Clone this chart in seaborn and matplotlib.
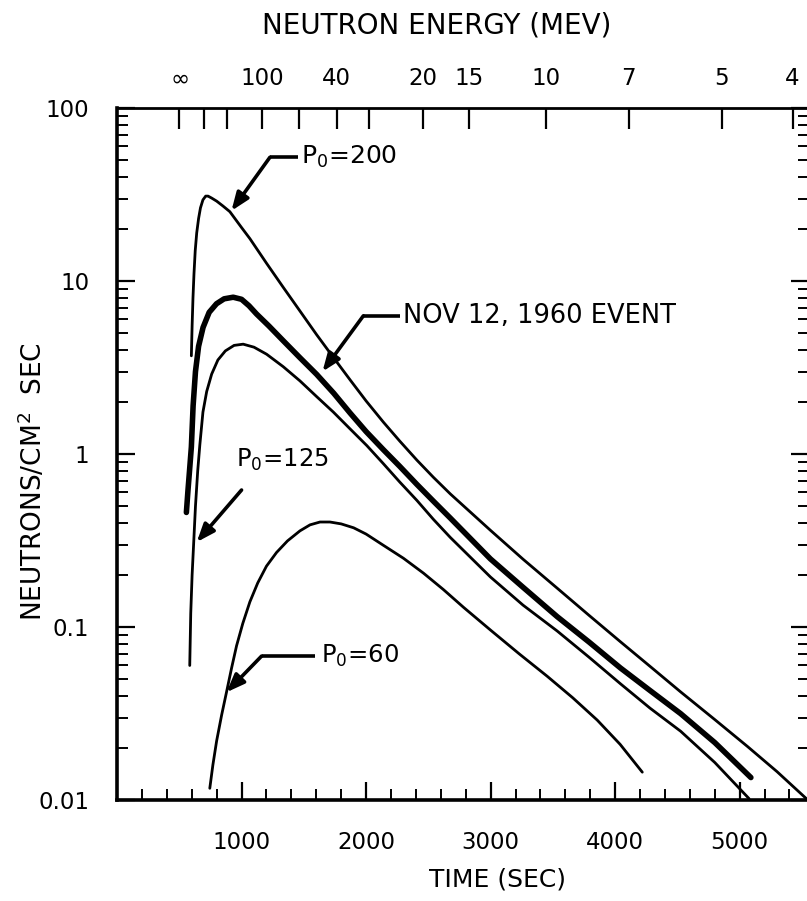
import numpy as np
import pandas as pd
import matplotlib
matplotlib.use('Agg')
import matplotlib.pyplot as plt
import seaborn as sns
from matplotlib.ticker import FixedLocator, FixedFormatter, LogLocator, NullFormatter

# ---------------- data ----------------
time_p200 = [597, 603, 610, 618, 628, 640, 655, 670, 690, 712, 731, 760, 800, 850, 906, 1000,
             1067, 1200, 1335, 1470, 1603, 1740, 1871, 2000, 2139, 2270, 2408, 2540, 2676, 2998,
             3260, 3534, 3790, 4043, 4290, 4526, 4800, 5063, 5300, 5548]
flux_p200 = [3.7, 5.5, 8.0, 11.0, 15.0, 19.0, 23.0, 26.5, 29.5, 31.0, 31.0, 30.2, 29.0, 27.2, 25.2,
             20.4, 17.6, 12.7, 9.2, 6.7, 4.9, 3.6, 2.69, 2.03, 1.53, 1.19, 0.923, 0.735, 0.589,
             0.363, 0.247, 0.168, 0.117, 0.0822, 0.0585, 0.0422, 0.0292, 0.0204, 0.0146, 0.01]

time_nov = [557, 570, 585, 597, 611, 630, 655, 691, 740, 799, 860, 933, 1000, 1060, 1120, 1220,
            1335, 1470, 1603, 1740, 1871, 2000, 2139, 2270, 2408, 2540, 2676, 2998, 3260, 3534,
            3790, 4043, 4280, 4526, 4800, 5090]
flux_nov = [0.46, 0.62, 0.85, 1.1, 1.9, 3.0, 4.2, 5.4, 6.6, 7.4, 7.9, 8.07, 7.85, 7.2, 6.46, 5.5,
            4.52, 3.6, 2.89, 2.25, 1.73, 1.35, 1.06, 0.85, 0.668, 0.535, 0.427, 0.248, 0.17, 0.115,
            0.082, 0.058, 0.043, 0.0316, 0.0215, 0.0135]

time_p125 = [584, 592, 603, 615, 630, 648, 665, 690, 720, 760, 810, 870, 940, 1013, 1100, 1201,
             1335, 1469, 1603, 1737, 1871, 2006, 2139, 2270, 2408, 2540, 2676, 2998, 3260, 3534,
             3790, 4043, 4280, 4526, 4800, 5075]
flux_p125 = [0.06, 0.12, 0.2, 0.3, 0.5, 0.8, 1.13, 1.75, 2.3, 2.9, 3.5, 3.95, 4.25, 4.32, 4.15, 3.78,
             3.2, 2.65, 2.15, 1.75, 1.4, 1.12, 0.88, 0.69, 0.54, 0.42, 0.33, 0.195, 0.134, 0.095,
             0.067, 0.047, 0.034, 0.025, 0.0165, 0.0102]

time_p60 = [745, 770, 800, 840, 879, 920, 960, 1010, 1067, 1130, 1200, 1281, 1369, 1469, 1550,
            1630, 1710, 1800, 1900, 2000, 2139, 2300, 2461, 2620, 2783, 3000, 3230, 3454, 3660,
            3856, 4040, 4218]
flux_p60 = [0.0117, 0.016, 0.022, 0.031, 0.042, 0.058, 0.078, 0.105, 0.14, 0.18, 0.225, 0.27, 0.315,
            0.36, 0.39, 0.405, 0.405, 0.395, 0.375, 0.345, 0.297, 0.25, 0.205, 0.165, 0.13, 0.096,
            0.07, 0.052, 0.039, 0.029, 0.021, 0.0145]

curve_names = ['P0=200', 'NOV 12, 1960 EVENT', 'P0=125', 'P0=60']
curve_widths = [2.0, 4.0, 2.0, 2.0]

x_major = [1000, 2000, 3000, 4000, 5000]
x_major_labels = ['1000', '2000', '3000', '4000', '5000']
y_major = [0.01, 0.1, 1, 10, 100]
y_major_labels = ['0.01', '0.1', '1', '10', '100']

energy_ticks = [np.inf, 400, 200, 100, 60, 40, 30, 20, 15, 10, 7, 5, 4]   # MeV
energy_labels = ['$\\infty$', '', '', '100', '', '40', '', '20', '15', '10', '7', '5', '4']

# annotations: text position, arrow path (time, flux)
ann_texts = ['P$_0$=200', 'NOV 12, 1960 EVENT', 'P$_0$=125', 'P$_0$=60']
ann_sizes = [18, 18.5, 17.5, 17.5]
ann_text_pos = [(1480, 52), (2300, 6.3), (955, 0.92), (1640, 0.068)]
ann_paths = [
    [(1450, 52), (1228, 52), (919, 25.5)],
    [(2270, 6.3), (1978, 6.3), (1650, 3.0)],
    [(1000, 0.62), (640, 0.31)],
    [(1590, 0.068), (1161, 0.068), (879, 0.042)],
]

# ---------------- figure ----------------
sns.set_theme(style='white')
plt.rcParams['font.family'] = ['DejaVu Sans']
plt.rcParams['mathtext.default'] = 'regular'
for key in ['text.color', 'axes.labelcolor', 'xtick.color', 'ytick.color', 'axes.edgecolor']:
    plt.rcParams[key] = 'black'

fig = plt.figure(figsize=(8.07, 9.01), dpi=100)
ax = fig.add_axes([0.145, 0.112, 0.858, 0.768])

series = [(time_p200, flux_p200), (time_nov, flux_nov), (time_p125, flux_p125), (time_p60, flux_p60)]
for (t, f), name, lw in zip(series, curve_names, curve_widths):
    d = pd.DataFrame({'time': t, 'flux': f})
    sns.lineplot(data=d, x='time', y='flux', ax=ax, color='black', linewidth=lw,
                 sort=False, estimator=None, solid_capstyle='round', solid_joinstyle='round')

ax.set_yscale('log')
ax.set_ylim(0.01, 100)
ax.set_xlim(0, 5560)

ax.xaxis.set_major_locator(FixedLocator(x_major))
ax.xaxis.set_major_formatter(FixedFormatter(x_major_labels))
ax.xaxis.set_minor_locator(FixedLocator(np.arange(200, 5600, 200)))
ax.yaxis.set_major_locator(FixedLocator(y_major))
ax.yaxis.set_major_formatter(FixedFormatter(y_major_labels))
ax.yaxis.set_minor_locator(LogLocator(base=10, subs=np.arange(2, 10)))
ax.yaxis.set_minor_formatter(NullFormatter())

ax.tick_params(axis='both', which='both', direction='in', colors='black', labelsize=16.5,
               left=True, right=True, bottom=True, top=False)
ax.tick_params(axis='both', which='major', length=13, width=1.6)
ax.tick_params(axis='both', which='minor', length=8, width=1.4)
ax.tick_params(axis='x', which='major', pad=22)
ax.tick_params(axis='y', which='major', pad=20)

for side in ['left', 'bottom']:
    ax.spines[side].set_linewidth(2.6)
    ax.spines[side].set_color('black')
ax.spines['top'].set_linewidth(2.0)
ax.spines['top'].set_color('black')
ax.spines['right'].set_visible(False)

ax.set_xlabel('TIME (SEC)', fontsize=18, color='black')
ax.xaxis.set_label_coords(0.549, -0.098)
ax.set_ylabel('NEUTRONS/CM$^2$  SEC', fontsize=19, color='black')
ax.yaxis.set_label_coords(-0.1, 0.46)

# top energy axis
ax2 = ax.twiny()
ax2.set_xlim(ax.get_xlim())
rest = 939.57
flight = 499.0
tick_times = []
for E in energy_ticks:
    if np.isinf(E):
        tick_times.append(flight)
    else:
        g = 1 + E / rest
        tick_times.append(flight / np.sqrt(1 - 1 / g**2))
ax2.xaxis.set_major_locator(FixedLocator(tick_times))
ax2.xaxis.set_major_formatter(FixedFormatter(energy_labels))
ax2.tick_params(axis='x', which='major', direction='in', length=15, width=1.6, labelsize=16.5,
                pad=13, colors='black')
for s in ax2.spines.values():
    s.set_visible(False)
ax2.set_xlabel('NEUTRON ENERGY (MEV)', fontsize=20, color='black')
ax2.xaxis.set_label_coords(0.462, 1.108)
ax2.grid(False)
ax.grid(False)

# annotations
for txt, fs, pos, path in zip(ann_texts, ann_sizes, ann_text_pos, ann_paths):
    ax.text(pos[0], pos[1], txt, fontsize=fs, ha='left', va='center', color='black')
    if len(path) > 2:
        xs = [p[0] for p in path[:-1]]
        ys = [p[1] for p in path[:-1]]
        ax.plot(xs, ys, color='black', lw=2.6, solid_capstyle='butt')
    ax.annotate('', xy=path[-1], xytext=path[-2],
                arrowprops=dict(arrowstyle='-|>,head_length=0.9,head_width=0.35',
                                color='black', lw=2.6, shrinkA=0, shrinkB=0))

fig.savefig('out.png', dpi=100, facecolor='white')
